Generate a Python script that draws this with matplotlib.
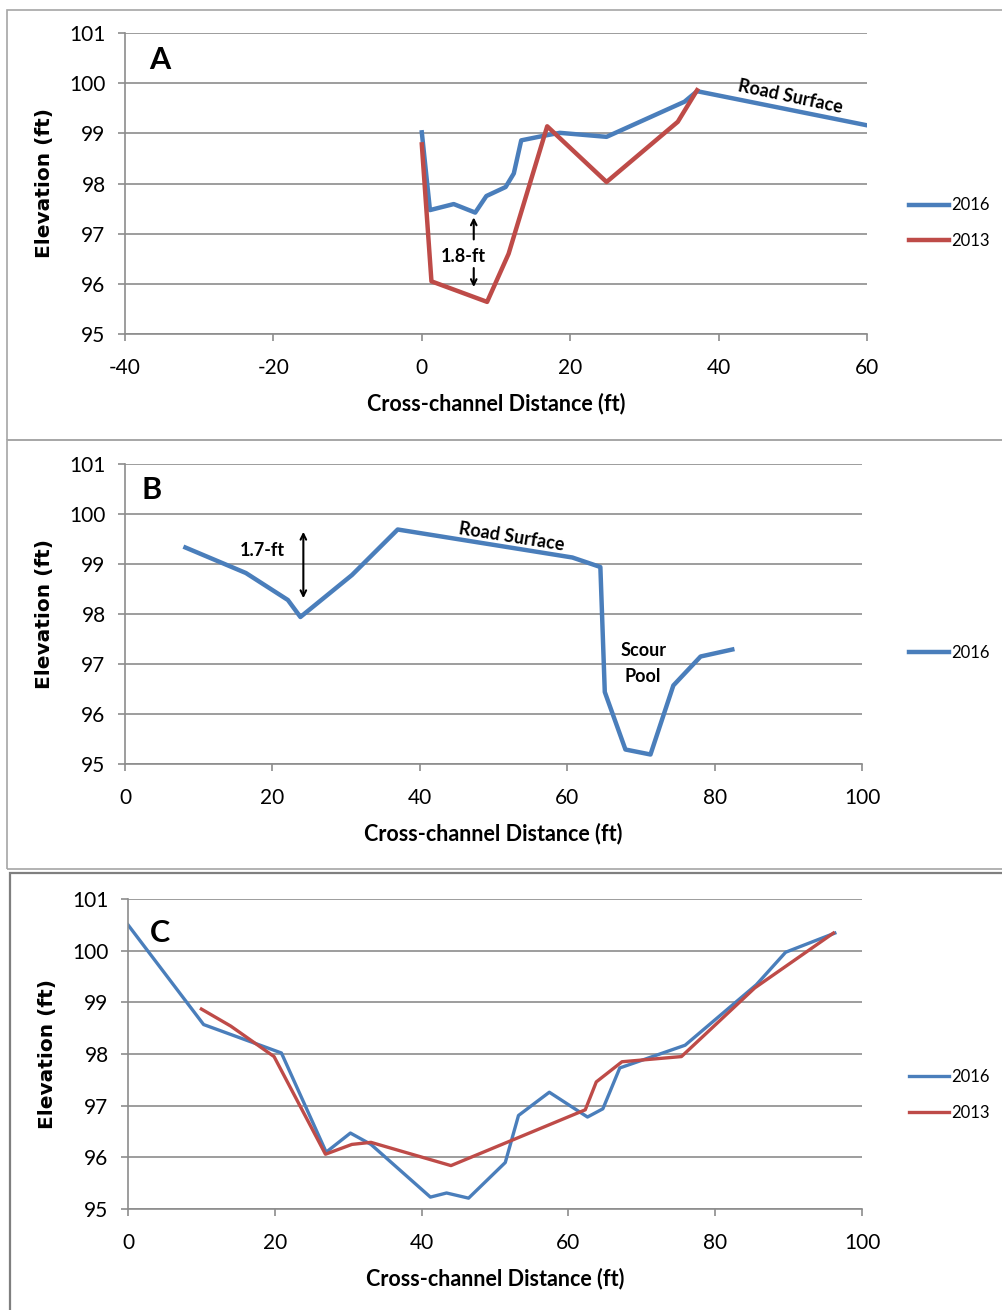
import matplotlib
matplotlib.use("Agg")
import matplotlib.pyplot as plt
from matplotlib.patches import Rectangle

plt.rcParams["font.family"] = ["Lato", "DejaVu Sans"]
plt.rcParams["axes.unicode_minus"] = False

BLUE = "#4A7EBB"
RED = "#BE4B48"
GRID = "#8C8C8C"

# Panel A - cross section data
a16_x = [0, 1.1, 4.3, 7.2, 8.7, 11.3, 12.4, 13.4, 16.4, 18.6, 24.9, 35.4, 37.1, 60]
a16_y = [99.02, 97.47, 97.59, 97.42, 97.75, 97.93, 98.2, 98.86, 98.95, 99.01, 98.93, 99.63, 99.84, 99.16]
a13_x = [0, 1.3, 8.8, 11.7, 16.9, 24.9, 34.5, 37.1]
a13_y = [98.78, 96.05, 95.64, 96.6, 99.14, 98.03, 99.23, 99.86]

# Panel B
b16_x = [8.2, 16.4, 22.1, 23.8, 30.8, 37.0, 60.7, 64.5, 65.1, 67.9, 71.3, 74.4, 78.1, 82.4]
b16_y = [99.33, 98.82, 98.28, 97.94, 98.78, 99.69, 99.13, 98.94, 96.44, 95.29, 95.19, 96.57, 97.15, 97.29]

# Panel C
c16_x = [0, 10.3, 20.9, 27.0, 30.3, 33.1, 41.2, 43.4, 46.4, 51.4, 53.2, 57.4, 62.6, 64.7, 67.0, 75.9, 85.6, 89.6, 96.3]
c16_y = [100.5, 98.57, 98.02, 96.1, 96.47, 96.25, 95.23, 95.31, 95.21, 95.9, 96.81, 97.26, 96.78, 96.94, 97.73, 98.17, 99.34, 99.97, 100.34]
c13_x = [10.0, 14.0, 19.9, 26.9, 30.5, 33.1, 44.0, 62.3, 63.8, 67.3, 75.4, 85.4, 96.1]
c13_y = [98.87, 98.54, 97.95, 96.06, 96.25, 96.29, 95.84, 96.92, 97.46, 97.85, 97.95, 99.28, 100.34]

W, H = 1003, 1310
fig = plt.figure(figsize=(W / 100, H / 100), dpi=100)


def px_axes(left, right, top, bottom):
    return fig.add_axes([left / W, 1 - bottom / H, (right - left) / W, (bottom - top) / H])


def frame(left, top, right, bottom, color="#A6A6A6", lw=1.2):
    fig.patches.append(Rectangle((left / W, 1 - bottom / H), (right - left) / W, (bottom - top) / H,
                                 transform=fig.transFigure, fill=False, ec=color, lw=lw))


def style(ax, xlim, xticks):
    ax.set_xlim(*xlim)
    ax.set_ylim(95, 101)
    ax.set_xticks(xticks)
    ax.set_yticks(range(95, 102))
    ax.grid(axis="y", color=GRID, lw=1.2)
    ax.set_axisbelow(True)
    for s in ["top", "right"]:
        ax.spines[s].set_visible(False)
    for s in ["left", "bottom"]:
        ax.spines[s].set_color(GRID)
        ax.spines[s].set_linewidth(1.2)
    ax.tick_params(axis="both", colors=GRID, labelcolor="black", labelsize=15, length=5, width=1.2)
    ax.tick_params(axis="x", pad=12)
    ax.tick_params(axis="y", pad=9)
    ax.set_xlabel("Cross-channel Distance (ft)", fontsize=15.5, fontweight="bold", labelpad=11)
    ax.set_ylabel("Elevation (ft)", fontsize=14.5, fontweight="bold", family="DejaVu Sans", labelpad=11)


def legend(ax, yc, spacing):
    ax.legend(loc="center left", bbox_to_anchor=(909 / W, 1 - yc / H), bbox_transform=fig.transFigure,
              frameon=False, fontsize=12, handlelength=2.4, handletextpad=0.15,
              labelspacing=spacing, borderpad=0, borderaxespad=0)


frame(7, 10, 1010, 440)
frame(7, 440, 1010, 869)
frame(10, 873, 1010, 1315, color="#7F7F7F", lw=1.6)

# ---- Panel A
ax = px_axes(125, 867, 33, 334)
style(ax, (-40, 60), range(-40, 61, 20))
ax.plot(a16_x, a16_y, color=BLUE, lw=3.2, label="2016")
ax.plot(a13_x, a13_y, color=RED, lw=3.2, label="2013")
ax.text(-35.3, 100.46, "A", fontsize=22, fontweight="bold", ha="center", va="center")
ax.text(49.6, 99.74, "Road Surface", fontsize=13, fontweight="bold", rotation=-12, ha="center", va="center")
ax.text(5.6, 96.55, "1.8-ft", fontsize=13, fontweight="bold", ha="center", va="center")
ax.annotate("", xy=(7.0, 97.38), xytext=(7.0, 96.83), arrowprops=dict(arrowstyle="->", lw=1.5, color="black"))
ax.annotate("", xy=(7.0, 95.88), xytext=(7.0, 96.37), arrowprops=dict(arrowstyle="->", lw=1.5, color="black"))
legend(ax, 223, 1.15)

# ---- Panel B
ax = px_axes(125, 862, 464, 764)
style(ax, (0, 100), range(0, 101, 20))
ax.plot(b16_x, b16_y, color=BLUE, lw=3.2, label="2016")
ax.text(3.6, 100.48, "B", fontsize=22, fontweight="bold", ha="center", va="center")
ax.text(52.5, 99.55, "Road Surface", fontsize=13, fontweight="bold", rotation=-9, ha="center", va="center")
ax.text(18.6, 99.28, "1.7-ft", fontsize=13, fontweight="bold", ha="center", va="center")
ax.annotate("", xy=(24.2, 99.7), xytext=(24.2, 98.26), arrowprops=dict(arrowstyle="<->", lw=1.5, color="black"))
ax.text(70.3, 97.27, "Scour", fontsize=13, fontweight="bold", ha="center", va="center")
ax.text(70.3, 96.76, "Pool", fontsize=13, fontweight="bold", ha="center", va="center")
legend(ax, 653, 1.15)

# ---- Panel C
ax = px_axes(128, 862, 899, 1209)
style(ax, (0, 100), range(0, 101, 20))
ax.plot(c16_x, c16_y, color=BLUE, lw=2.4, label="2016")
ax.plot(c13_x, c13_y, color=RED, lw=2.4, label="2013")
ax.text(4.4, 100.34, "C", fontsize=22, fontweight="bold", ha="center", va="center")
legend(ax, 1095, 1.2)

fig.savefig("out.png", dpi=100)
